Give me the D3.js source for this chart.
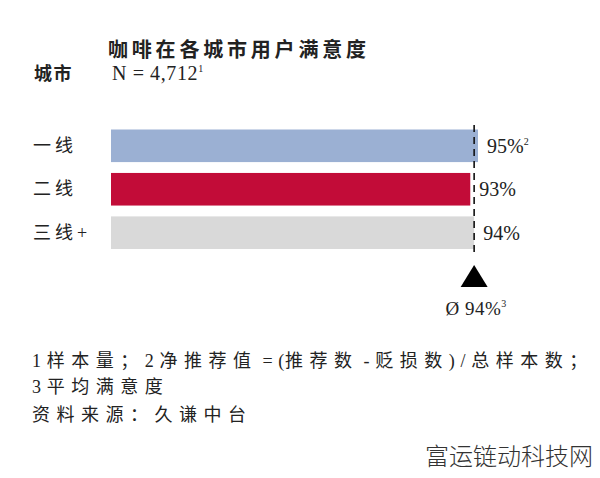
<!DOCTYPE html>
<html><head><meta charset="utf-8">
<script src="https://cdn.jsdelivr.net/npm/d3@7"></script>
<style>
body{margin:0;background:#fff;}
svg{display:block;}
text{font-family:"Liberation Serif","Noto Sans CJK SC",serif;fill:#222;}
</style></head>
<body><svg id="c" width="600" height="478"></svg>
<script>
const categories = ["一线", "二线", "三线+"];
const values = [95, 93, 94];
const valueLabels = ["95%", "93%", "94%"];
const valueSup = ["2", "", ""];
const average = 94;
const colors = ["#9bb0d3", "#c20c38", "#d9d9d9"];
const title = "咖啡在各城市用户满意度";
const sampleText = "N = 4,712";
const footnotes = ["1 样本量；2 净推荐值 = (推荐数 - 贬损数) / 总样本数；", "3 平均满意度", "资料来源：久谦中台"];
const watermark = "富运链动科技网";

const svg = d3.select("#c");
const x = d3.scaleLinear().domain([0, 95]).range([111, 478]);
const y = d3.scaleBand().domain(categories).range([129.5, 249]).paddingInner(0.25).paddingOuter(0);

// write text with letter-spacing on CJK runs; keep spaces as non-breaking
function runs(sel, str, sp, lsp) {
  const re = /[\u2e80-\u9fff\uff00-\uffef\u3000-\u303f]+/g;
  const nb = s => s.replace(/ /g, "\u00a0");
  let last = 0, m;
  while ((m = re.exec(str)) !== null) {
    if (m.index > last) sel.append("tspan").attr("letter-spacing", lsp).text(nb(str.slice(last, m.index)));
    sel.append("tspan").attr("letter-spacing", sp).text(m[0]);
    last = m.index + m[0].length;
  }
  if (last < str.length) sel.append("tspan").attr("letter-spacing", lsp).text(nb(str.slice(last)));
}

// title
svg.append("text").attr("x", 108).attr("y", 57).attr("font-size", 20).attr("font-weight", "bold")
  .attr("letter-spacing", 3.8).text(title);
svg.append("text").attr("x", 34).attr("y", 80).attr("font-size", 18).attr("font-weight", "bold")
  .attr("letter-spacing", 1.5).text("城市");
const n = svg.append("text").attr("x", 112).attr("y", 80).attr("font-size", 20).attr("letter-spacing", 0.6);
n.append("tspan").text(sampleText);
n.append("tspan").attr("font-size", 10).attr("dy", -8).text("1");

// bars
svg.selectAll("rect.bar").data(categories).join("rect").attr("class", "bar")
  .attr("x", x(0)).attr("y", d => y(d))
  .attr("width", (d, i) => x(values[i]) - x(0)).attr("height", y.bandwidth())
  .attr("fill", (d, i) => colors[i]);

// category labels
svg.selectAll("text.cat").data(categories).join("text").attr("class", "cat")
  .attr("x", 33).attr("y", d => y(d) + y.bandwidth() / 2 + 6)
  .attr("font-size", 18).each(function (d) { runs(d3.select(this), d, 4, 0); });

// value labels
const vl = svg.selectAll("text.val").data(categories).join("text").attr("class", "val")
  .attr("x", (d, i) => x(values[i]) + 9).attr("y", d => y(d) + y.bandwidth() / 2 + 7)
  .attr("font-size", 20);
vl.append("tspan").text((d, i) => valueLabels[i]);
vl.append("tspan").attr("font-size", 10).attr("dy", -8).text((d, i) => valueSup[i]);

// average line
const ax = x(average);
svg.append("line").attr("x1", ax).attr("x2", ax).attr("y1", 125).attr("y2", 256)
  .attr("stroke", "#111").attr("stroke-width", 1.6).attr("stroke-dasharray", "7,5");
svg.append("path").attr("d", `M${ax},265 L${ax + 13.5},287 L${ax - 13.5},287 Z`).attr("fill", "#000");
const av = svg.append("text").attr("x", ax + 2).attr("y", 315).attr("text-anchor", "middle").attr("font-size", 19).attr("letter-spacing", 0.5);
av.append("tspan").text("Ø " + average + "%");
av.append("tspan").attr("font-size", 10).attr("dy", -8).text("3");

// footnotes
svg.selectAll("text.fn").data(footnotes).join("text").attr("class", "fn")
  .attr("x", 32).attr("y", (d, i) => [367, 393, 421][i])
  .attr("font-size", 18).each(function (d) { runs(d3.select(this), d, 6.5, 0.6); });

svg.append("text").attr("x", 425).attr("y", 465).attr("font-size", 24)
  .style("font-family", "'Noto Sans CJK SC'").style("font-weight", 300).style("fill", "#333")
  .text(watermark);
</script></body></html>
